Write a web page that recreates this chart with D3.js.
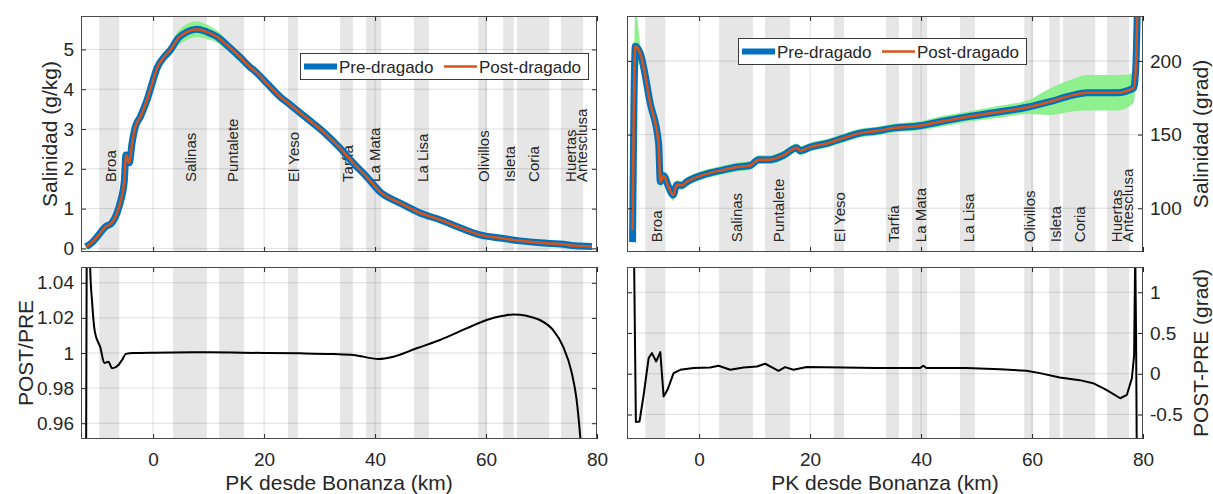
<!DOCTYPE html>
<html>
<head>
<meta charset="utf-8">
<script src="https://cdn.jsdelivr.net/npm/d3@7"></script>
<style>
  body { margin: 0; background: #fff; }
  text { font-family: "Liberation Sans", Arial, Helvetica, sans-serif; fill: #262626; }
</style>
</head>
<body>
<svg id="fig" width="1213" height="494"></svg>
<script>
// ---- Shared axis data ----
const KM_DOMAIN = [-13, 80];
const KM_TICKS = [0, 20, 40, 60, 80];
const KM_LABELS = ["0", "20", "40", "60", "80"];

// ---- Reach / zone bands along the estuary (km) ----
const bandNames = ["Broa", "Salinas", "Puntalete", "El Yeso", "Tarfia", "La Mata", "La Lisa", "Olivillos", "Isleta", "Coria", "Huertas", "Antesclusa"];
const bandStart = [-9.7, 3.6, 11.9, 24.3, 33.7, 38.4, 47.0, 58.6, 63.1, 65.6, 73.5, 76.6];
const bandEnd   = [-6.1, 9.7, 16.4, 26.1, 36.0, 41.1, 49.7, 60.2, 65.0, 71.4, 76.6, 77.5];

// ---- Salinity amplitude (g/kg) ----
const salKm = [-12.1, -11, -10.1, -8.6, -7.4, -6.5, -5.8, -5.2, -4.9, -4.3, -3.8, -3.2, -2.3, -1.1, 0, 0.7, 1.8, 3.1, 4.5, 6.1, 7.9, 9.7, 11.5, 13.3, 15.7, 17.5, 18.4, 20.5, 22.9, 24.7, 27.7, 30.7, 33.7, 36.1, 38.5, 40.9, 44.5, 48.1, 51.7, 55.3, 58.9, 62.5, 66.1, 69.7, 73.3, 76.9, 79.1];
const salPre  = [0.04, 0.15, 0.29, 0.54, 0.65, 0.89, 1.22, 1.68, 2.35, 2.15, 2.64, 3.06, 3.31, 3.73, 4.23, 4.53, 4.78, 4.98, 5.28, 5.44, 5.51, 5.44, 5.32, 5.11, 4.80, 4.55, 4.45, 4.15, 3.81, 3.61, 3.27, 2.93, 2.52, 2.14, 1.80, 1.42, 1.14, 0.89, 0.72, 0.52, 0.34, 0.26, 0.19, 0.14, 0.11, 0.06, 0.05];
const salPost = [0.04, 0.15, 0.29, 0.54, 0.65, 0.89, 1.22, 1.68, 2.35, 2.15, 2.64, 3.06, 3.31, 3.73, 4.23, 4.53, 4.78, 4.98, 5.28, 5.44, 5.51, 5.44, 5.32, 5.11, 4.80, 4.55, 4.45, 4.15, 3.81, 3.61, 3.27, 2.93, 2.52, 2.14, 1.80, 1.42, 1.14, 0.89, 0.72, 0.52, 0.34, 0.26, 0.19, 0.14, 0.11, 0.06, 0.05];
const salSpread = [0.06, 0.06, 0.06, 0.06, 0.06, 0.06, 0.06, 0.06, 0.06, 0.06, 0.06, 0.06, 0.06, 0.08, 0.09, 0.10, 0.12, 0.14, 0.18, 0.20, 0.20, 0.18, 0.15, 0.13, 0.12, 0.11, 0.11, 0.10, 0.10, 0.10, 0.10, 0.10, 0.08, 0.06, 0.06, 0.06, 0.06, 0.06, 0.06, 0.06, 0.06, 0.06, 0.06, 0.06, 0.06, 0.06, 0.06];
const SAL_TICKS = [0, 1, 2, 3, 4, 5];
const SAL_LABELS = ["0", "1", "2", "3", "4", "5"];

// ---- Salinity phase (grad) ----
const phKm = [-12.0, -11.5, -10.6, -8.8, -7.3, -7.0, -6.4, -5.5, -4.7, -4.0, -3.1, -2.2, 0.2, 2.0, 4.4, 6.8, 9.2, 10.7, 12.8, 15.2, 17.6, 18.2, 20, 23, 26, 29, 32, 35, 39.8, 43.4, 48.2, 54.2, 59.6, 63.2, 67.4, 69.9, 75.3, 78.3, 78.7, 79.0];
const phPre  = [77, 210, 205, 171, 144, 118, 122, 114.5, 109, 116, 115.5, 118, 122, 124, 126, 128, 129, 133, 133, 136, 141, 139, 141.5, 144, 147.6, 151, 152.4, 154.4, 156, 158.7, 162, 165.5, 168.9, 172.3, 176.8, 178.4, 178.4, 181.5, 195, 240];
const phPost = [85, 210, 205, 171, 144, 118, 122, 114.5, 109, 116, 115.5, 118, 122, 124, 126, 128, 129, 133, 133, 136, 141, 139, 141.5, 144, 147.6, 151, 152.4, 154.4, 156, 158.7, 162, 165.5, 168.9, 172.3, 176.8, 178.4, 178.4, 181.5, 195, 240];
const phSpread = [10, 25, 6, 3, 3, 4, 3, 3, 4, 3, 3, 3, 3, 3, 3, 3, 3, 3, 3, 3, 3, 3, 3, 3, 3, 3, 3, 3, 3, 3.5, 3.5, 4, 5, 9, 11, 12, 12, 10, 3, 3];
const PH_TICKS = [100, 150, 200];
const PH_LABELS = ["100", "150", "200"];

// ---- Amplitude ratio POST/PRE ----
const ratioKm  = [-12.2, -11.7, -11.35, -11.0, -10.5, -9.5, -8.8, -8.05, -7.4, -6.25, -5.6, -4.9, -3.5, 0, 10, 20, 26.5, 32.5, 36.1, 40.6, 43.3, 47.5, 51.7, 56.5, 60.1, 63.1, 64.9, 67.3, 69.7, 72.1, 73.9, 75.4, 76.3, 77.0, 77.5];
const ratioVal = [0.80, 1.20, 1.049, 1.029, 1.012, 1.003, 0.9943, 0.995, 0.9913, 0.9932, 0.996, 0.9995, 1.0, 1.0002, 1.0004, 1.0, 0.9998, 0.9994, 0.9989, 0.9966, 0.9979, 1.0027, 1.0074, 1.014, 1.0188, 1.0212, 1.022, 1.0212, 1.0188, 1.013, 1.0036, 0.9894, 0.974, 0.9515, 0.93];
const RATIO_TICKS = [0.96, 0.98, 1, 1.02, 1.04];
const RATIO_LABELS = ["0.96", "0.98", "1", "1.02", "1.04"];

// ---- Phase difference POST-PRE (grad) ----
const diffKm  = [-11.9, -11.4, -10.75, -10.0, -9.1, -8.5, -7.75, -7.0, -6.4, -5.7, -4.6, -3.4, -1.0, 2.0, 3.5, 5.6, 8.0, 10.4, 11.9, 13.4, 14.3, 15.5, 17.0, 19.4, 26.0, 32.0, 39.8, 40.4, 41.0, 48.2, 54.2, 59.0, 61.4, 65.0, 68.6, 71.0, 73.4, 75.9, 77.1, 78.0, 78.4, 78.6, 78.75, 78.9];
const diffVal = [2.5, -0.59, -0.586, -0.26, 0.193, 0.254, 0.151, 0.266, -0.278, -0.197, 0.008, 0.049, 0.07, 0.077, 0.098, 0.049, 0.077, 0.09, 0.123, 0.07, 0.037, 0.082, 0.049, 0.082, 0.077, 0.07, 0.07, 0.098, 0.07, 0.07, 0.057, 0.037, 0.008, -0.045, -0.078, -0.115, -0.197, -0.30, -0.258, -0.053, 0.23, 1.5, 0.5, -1.2];
const DIFF_TICKS = [-0.5, 0, 0.5, 1];
const DIFF_LABELS = ["-0.5", "0", "0.5", "1"];

// ---- Styling ----
const COL = { blue: "#0072BD", orange: "#D95319", green: "#8ef08e", band: "#e6e6e6", ink: "#262626", grid: "rgba(38,38,38,0.15)" };
const FONT = { tick: 19, label: 21, legend: 17, band: 15 };

const svg = d3.select("#fig");

function makePanel(o) {
  const x = d3.scaleLinear().domain(KM_DOMAIN).range([o.left, o.right]);
  const y = d3.scaleLinear().domain(o.yDomain).range([o.bottom, o.top]);
  const g = svg.append("g");
  const clipId = "clip-" + o.id;
  svg.append("clipPath").attr("id", clipId).append("rect")
    .attr("x", o.left).attr("y", o.top)
    .attr("width", o.right - o.left).attr("height", o.bottom - o.top);

  g.append("rect").attr("x", o.left).attr("y", o.top)
    .attr("width", o.right - o.left).attr("height", o.bottom - o.top).attr("fill", "#fff");

  const plot = g.append("g").attr("clip-path", `url(#${clipId})`);

  // zone bands
  plot.append("g").selectAll("rect").data(bandNames).join("rect")
    .attr("x", (d, i) => x(bandStart[i]))
    .attr("width", (d, i) => x(bandEnd[i]) - x(bandStart[i]))
    .attr("y", o.top).attr("height", o.bottom - o.top)
    .attr("fill", COL.band);

  // grid
  const grid = plot.append("g");
  grid.selectAll("line.gx").data(KM_TICKS).join("line")
    .attr("x1", d => x(d)).attr("x2", d => x(d))
    .attr("y1", o.top).attr("y2", o.bottom)
    .attr("stroke", COL.grid).attr("stroke-width", 1);
  grid.selectAll("line.gy").data(o.yTicks).join("line")
    .attr("y1", d => y(d)).attr("y2", d => y(d))
    .attr("x1", o.left).attr("x2", o.right)
    .attr("stroke", COL.grid).attr("stroke-width", 1);

  return { x, y, g, plot, o };
}

function finishAxes(p) {
  const { x, y, g, o } = p;
  const h = o.bottom - o.top;
  const styleAxis = sel => {
    sel.select(".domain").remove();
    sel.selectAll(".tick line").attr("stroke", COL.ink).attr("stroke-width", 1);
    sel.selectAll("text").attr("font-size", FONT.tick)
      .attr("font-family", '"Liberation Sans", Arial, sans-serif').attr("fill", COL.ink);
  };
  // bottom
  g.append("g").attr("transform", `translate(0,${o.bottom})`)
    .call(d3.axisBottom(x).tickValues(KM_TICKS).tickSize(-5).tickPadding(14)
      .tickFormat((d, i) => o.xLabels ? KM_LABELS[i] : ""))
    .call(styleAxis);
  // top
  g.append("g").attr("transform", `translate(0,${o.top})`)
    .call(d3.axisTop(x).tickValues(KM_TICKS).tickSize(-5).tickFormat(() => ""))
    .call(styleAxis);
  // left
  g.append("g").attr("transform", `translate(${o.left},0)`)
    .call(d3.axisLeft(y).tickValues(o.yTicks).tickSize(-5).tickPadding(7)
      .tickFormat((d, i) => o.ySide === "left" ? o.yLabels[i] : ""))
    .call(styleAxis);
  // right
  g.append("g").attr("transform", `translate(${o.right},0)`)
    .call(d3.axisRight(y).tickValues(o.yTicks).tickSize(-5).tickPadding(7)
      .tickFormat((d, i) => o.ySide === "right" ? o.yLabels[i] : ""))
    .call(styleAxis);
  // box
  g.append("rect").attr("x", o.left + 0.5).attr("y", o.top + 0.5)
    .attr("width", o.right - o.left - 1).attr("height", h - 1)
    .attr("fill", "none").attr("stroke", "#4a4a4a").attr("stroke-width", 1);

  // axis titles
  if (o.xTitle) {
    g.append("text").attr("x", (o.left + o.right) / 2).attr("y", 490)
      .attr("text-anchor", "middle").attr("font-size", FONT.label).text(o.xTitle);
  }
  g.append("text")
    .attr("transform", `translate(${o.yTitleX},${(o.top + o.bottom) / 2}) rotate(-90)`)
    .attr("text-anchor", "middle").attr("font-size", FONT.label).text(o.yTitle);
}

function bandLabels(p, yVal) {
  p.plot.append("g").selectAll("text").data(bandNames).join("text")
    .attr("transform", (d, i) => `translate(${p.x((bandStart[i] + bandEnd[i]) / 2) + 1},${p.y(yVal)}) rotate(-90)`)
    .attr("dy", "0.35em").attr("font-size", FONT.band).attr("fill", "#000")
    .text(d => d);
}

function envelope(p, km, vals, spread) {
  const idx = d3.range(km.length);
  const area = d3.area().curve(d3.curveMonotoneX)
    .x(i => p.x(km[i])).y0(i => p.y(vals[i] - spread[i])).y1(i => p.y(vals[i] + spread[i]));
  p.plot.append("path").attr("d", area(idx)).attr("fill", COL.green).attr("stroke", "none");
}

function drawLine(p, km, vals, color, width, curve) {
  const idx = d3.range(km.length);
  const line = d3.line().curve(curve || d3.curveMonotoneX)
    .x(i => p.x(km[i])).y(i => p.y(vals[i]));
  p.plot.append("path").attr("d", line(idx)).attr("fill", "none")
    .attr("stroke", color).attr("stroke-width", width)
    .attr("stroke-linejoin", "round").attr("stroke-linecap", "butt");
}

function legend(p, bx, by) {
  const w = 288, h = 26;
  const lg = p.g.append("g").attr("transform", `translate(${bx},${by})`);
  lg.append("rect").attr("x", 0.5).attr("y", 0.5).attr("width", w).attr("height", h)
    .attr("fill", "#fff").attr("stroke", "#3a3a3a").attr("stroke-width", 1);
  const items = [
    { name: "Pre-dragado", color: COL.blue, width: 6, x0: 4 },
    { name: "Post-dragado", color: COL.orange, width: 2.5, x0: 144 }
  ];
  items.forEach(it => {
    lg.append("line").attr("x1", it.x0).attr("x2", it.x0 + 33)
      .attr("y1", h / 2 + 0.5).attr("y2", h / 2 + 0.5)
      .attr("stroke", it.color).attr("stroke-width", it.width);
    lg.append("text").attr("x", it.x0 + 35).attr("y", h / 2 + 0.5).attr("dy", "0.36em")
      .attr("font-size", FONT.legend).attr("fill", "#000").text(it.name);
  });
}

// ---- Top-left: salinity amplitude ----
const pSal = makePanel({ id: "sal", left: 81, right: 597, top: 16, bottom: 252,
  yDomain: [-0.09, 5.84], yTicks: SAL_TICKS });
bandLabels(pSal, 1.67);
envelope(pSal, salKm, salPre, salSpread);
drawLine(pSal, salKm, salPre, COL.blue, 7);
drawLine(pSal, salKm, salPost, COL.orange, 2.5);
finishAxes(Object.assign(pSal, { o: Object.assign(pSal.o || {}, { id: "sal", left: 81, right: 597, top: 16, bottom: 252,
  yTicks: SAL_TICKS, yLabels: SAL_LABELS, ySide: "left", xLabels: false,
  yTitle: "Salinidad (g/kg)", yTitleX: 57 }) }));
legend(pSal, 300, 53);

// ---- Top-right: salinity phase ----
const pPh = makePanel({ id: "ph", left: 627, right: 1143, top: 16, bottom: 252,
  yDomain: [70.3, 230.5], yTicks: PH_TICKS });
bandLabels(pPh, 77);
envelope(pPh, phKm, phPre, phSpread);
drawLine(pPh, phKm, phPre, COL.blue, 7);
drawLine(pPh, phKm, phPost, COL.orange, 2.5);
finishAxes(Object.assign(pPh, { o: { id: "ph", left: 627, right: 1143, top: 16, bottom: 252,
  yTicks: PH_TICKS, yLabels: PH_LABELS, ySide: "right", xLabels: false,
  yTitle: "Salinidad (grad)", yTitleX: 1208 } }));
legend(pPh, 738, 38);

// ---- Bottom-left: amplitude ratio ----
const pRat = makePanel({ id: "rat", left: 81, right: 597, top: 267, bottom: 439,
  yDomain: [0.951, 1.049], yTicks: RATIO_TICKS });
drawLine(pRat, ratioKm, ratioVal, "#000", 2);
finishAxes(Object.assign(pRat, { o: { id: "rat", left: 81, right: 597, top: 267, bottom: 439,
  yTicks: RATIO_TICKS, yLabels: RATIO_LABELS, ySide: "left", xLabels: true,
  xTitle: "PK desde Bonanza (km)", yTitle: "POST/PRE", yTitleX: 33 } }));

// ---- Bottom-right: phase difference ----
const pDif = makePanel({ id: "dif", left: 627, right: 1143, top: 267, bottom: 439,
  yDomain: [-0.8, 1.31], yTicks: DIFF_TICKS });
drawLine(pDif, diffKm, diffVal, "#000", 2, d3.curveLinear);
finishAxes(Object.assign(pDif, { o: { id: "dif", left: 627, right: 1143, top: 267, bottom: 439,
  yTicks: DIFF_TICKS, yLabels: DIFF_LABELS, ySide: "right", xLabels: true,
  xTitle: "PK desde Bonanza (km)", yTitle: "POST-PRE (grad)", yTitleX: 1208 } }));
</script>
</body>
</html>
